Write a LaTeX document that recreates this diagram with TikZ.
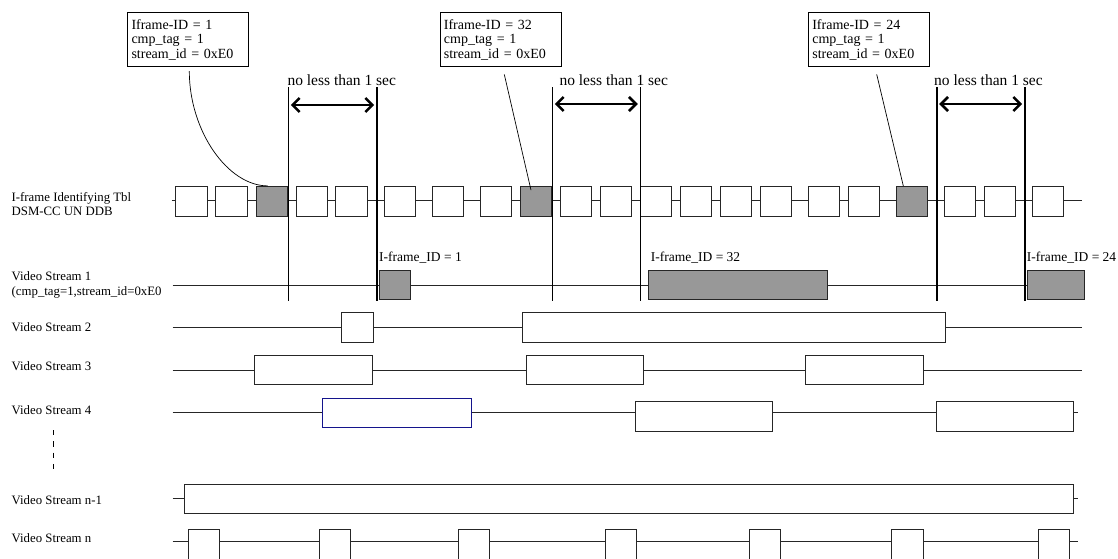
\documentclass[tikz,border=0pt]{standalone}
\usepackage{fontspec}
\setmainfont{Liberation Serif}
\usetikzlibrary{arrows.meta,calc}
\definecolor{shade}{RGB}{152,152,152}
\definecolor{navy}{RGB}{20,20,140}
\begin{document}
\begin{tikzpicture}[x=1pt,y=-1pt,
  row/.style={line width=0.8pt, draw=black!85},
  pkt/.style={draw=black!85, line width=0.8pt, fill=white, minimum width=31.5pt, minimum height=30pt, inner sep=0pt},
  ipkt/.style={pkt, fill=shade},
  seg/.style={draw=black!85, line width=0.8pt, fill=white, inner sep=0pt},
  iseg/.style={seg, fill=shade},
  lbl/.style={anchor=west, inner sep=0pt, align=left, font=\fontsize{12.8}{14.5}\selectfont},
  callout/.style={draw, line width=0.8pt, fill=white, text width=113pt, inner xsep=4pt, inner ysep=0pt, minimum height=54pt, align=left, font=\fontsize{14}{14.5}\selectfont},
  idlbl/.style={anchor=base west, inner sep=0pt, font=\fontsize{13.5}{15}\selectfont},
  gaplbl/.style={anchor=base west, inner sep=0pt, font=\fontsize{15.5}{17}\selectfont},
  marker/.style={line width=1.6pt},
  span/.style={line width=2.6pt, {Straight Barb[length=7pt,width=14pt]}-{Straight Barb[length=7pt,width=14pt]}, shorten <=2.5pt, shorten >=2.5pt},
  leader/.style={line width=0.7pt},
]
\useasboundingbox (0,0) rectangle (1118,558);

% ---------- left labels ----------
\node[lbl] (l0) at (11.5,203.8) {I-frame Identifying Tbl\\DSM-CC UN DDB};
\node[lbl] (l1) at (11.5,285) {Video Stream 1\\(cmp\_tag=1,stream\_id=0xE0};
\node[lbl] (l2) at (11.5,326.7) {Video Stream 2};
\node[lbl] (l3) at (11.5,366) {Video Stream 3};
\node[lbl] (l4) at (11.5,410) {Video Stream 4};
\node[lbl] (lm) at (11.5,500.5) {Video Stream n-1};
\node[lbl] (ln) at (11.5,538.5) {Video Stream n};
\coordinate (dt) at (53.6,430);
\coordinate (db) at (53.6,469.3);
\draw[line width=1.6pt, dash pattern=on 5.3pt off 6pt] (dt) -- (db);

% ---------- I-frame identifying table row ----------
\coordinate (r0a) at (171.7,200.5);
\coordinate (r0b) at (1081.7,200.5);
\draw[row] (r0a) -- (r0b);
\foreach \n/\x/\s in {1/191.5/pkt,2/231.5/pkt,3/271.8/ipkt,4/311.8/pkt,5/351.5/pkt,
  6/399.8/pkt,7/447.8/pkt,8/496/pkt,9/536/ipkt,10/576/pkt,11/616/pkt,12/656/pkt,
  13/696/pkt,14/736/pkt,15/776/pkt,16/824/pkt,17/864/pkt,18/912/ipkt,19/960/pkt,
  20/1000/pkt,21/1048/pkt}
  \node[\s] (b\n) at (\x,201.3) {};

% ---------- Video stream 1 ----------
\coordinate (r1a) at (172.5,285);
\coordinate (r1b) at (1027.3,285);
\draw[row] (r1a) -- (r1b);
\node[iseg, minimum width=31.7pt, minimum height=28.6pt] (s1) at (394.85,285) {};
\node[iseg, minimum width=179pt, minimum height=28.6pt] (s2) at (738,285) {};
\node[iseg, minimum width=56.7pt, minimum height=28.6pt] (s3) at (1055.65,285) {};
\node[idlbl] (id1) at (379,261.7) {I-frame\_ID = 1};
\node[idlbl] (id2) at (650.7,261.7) {I-frame\_ID = 32};
\node[idlbl] (id3) at (1026.7,261.7) {I-frame\_ID = 24};

% ---------- Video stream 2 ----------
\coordinate (r2a) at (172.5,327.3);
\coordinate (r2b) at (1081.5,327.3);
\draw[row] (r2a) -- (r2b);
\node[seg, minimum width=31.8pt, minimum height=29.6pt] (p21) at (357.7,327.3) {};
\node[seg, minimum width=423.2pt, minimum height=29.6pt] (p22) at (734.1,327.3) {};

% ---------- Video stream 3 ----------
\coordinate (r3a) at (172.5,370);
\coordinate (r3b) at (1081.5,370);
\draw[row] (r3a) -- (r3b);
\node[seg, minimum width=117.9pt, minimum height=29.3pt] (p31) at (313.55,369.7) {};
\node[seg, minimum width=117.5pt, minimum height=29.3pt] (p32) at (584.75,369.7) {};
\node[seg, minimum width=118.2pt, minimum height=29.3pt] (p33) at (864.1,369.7) {};

% ---------- Video stream 4 ----------
\coordinate (r4a) at (172.5,412.3);
\coordinate (r4b) at (1078,412.3);
\draw[row] (r4a) -- (r4b);
\node[seg, draw=navy, minimum width=148.9pt, minimum height=29pt] (p41) at (396.95,412.8) {};
\node[seg, minimum width=137pt, minimum height=29.3pt] (p42) at (704,416.3) {};
\node[seg, minimum width=137pt, minimum height=29.3pt] (p43) at (1005.1,416.3) {};

% ---------- Video stream n-1 ----------
\node[seg, minimum width=889.6pt, minimum height=29.3pt] (pm) at (628.8,498.65) {};
\coordinate (rma) at (172.5,498.65);
\coordinate (rmb) at (1078,498.65);
\draw[row] (rma) -- (pm.west);
\draw[row] (pm.east) -- (rmb);

% ---------- Video stream n ----------
\coordinate (rna) at (172.5,541);
\coordinate (rnb) at (1078,541);
\draw[row] (rna) -- (rnb);
\foreach \n/\x in {1/203.75,2/334.85,3/473.75,4/621,5/764.7,6/907.25,7/1053.8}
  \node[seg, minimum width=31.3pt, minimum height=32pt] (pn\n) at (\x,545.3) {};

% ---------- one-second markers ----------
\foreach \n/\x in {1/288.3,2/376.7,3/552.3,4/640.3,5/936.7,6/1024.7}{
  \coordinate (v\n t) at (\x,87);
  \coordinate (v\n b) at (\x,300.7);
  \draw[marker] (v\n t) -- (v\n b);
}
\coordinate (a1l) at (288.3,105);
\coordinate (a1r) at (376.7,105);
\coordinate (a2l) at (552.3,104);
\coordinate (a2r) at (640.3,104);
\coordinate (a3l) at (936.7,104);
\coordinate (a3r) at (1024.7,104);
\draw[span] (a1l) -- (a1r);
\draw[span] (a2l) -- (a2r);
\draw[span] (a3l) -- (a3r);
\node[gaplbl] (g1) at (287.3,85) {no less than 1 sec};
\node[gaplbl] (g2) at (559.3,85) {no less than 1 sec};
\node[gaplbl] (g3) at (934,85) {no less than 1 sec};

% ---------- callouts ----------
\node[callout] (c1) at (188,39.7) {Iframe-ID = 1\\cmp\_tag = 1\\stream\_id = 0xE0};
\node[callout] (c2) at (500.4,39.7) {Iframe-ID = 32\\cmp\_tag = 1\\stream\_id = 0xE0};
\node[callout] (c3) at (868.8,39.5) {Iframe-ID = 24\\cmp\_tag = 1\\stream\_id = 0xE0};

\draw[leader] ($(c1.south)+(1.3,4)$) .. controls +(0,60) and +(-40,0) .. ($(b3.north)+(-4,0)$);
\draw[leader] ($(c2.south)+(3.9,7.3)$) -- ($(b9.north)+(-5,4.2)$);
\draw[leader] ($(c3.south)+(7.9,7.5)$) -- ($(b18.north)+(-8.7,0)$);
\end{tikzpicture}
\end{document}
